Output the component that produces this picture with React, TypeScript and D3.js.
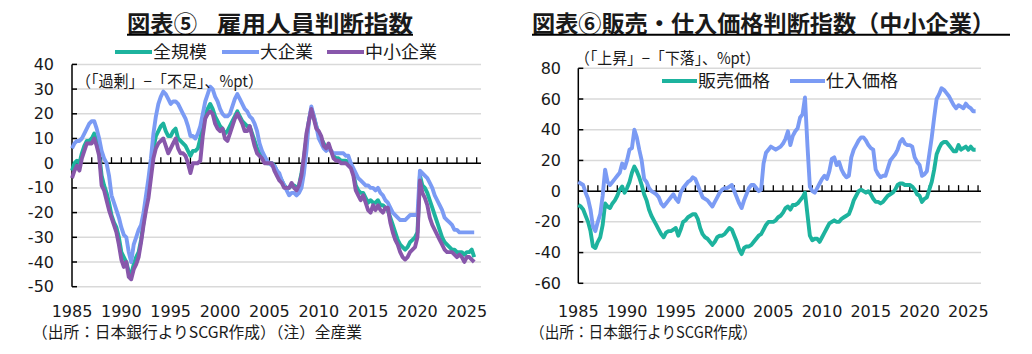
import React from "react";
import * as d3 from "d3";

// ---- Data (quarterly, 1985Q1 - 2025Q4) ----
const years = d3.range(1985, 2026);
const xTickLabels = ["1985", "1990", "1995", "2000", "2005", "2010", "2015", "2020", "2025"];
const leftYTicks = [40, 30, 20, 10, 0, -10, -20, -30, -40, -50];
const rightYTicks = [80, 60, 40, 20, 0, -20, -40, -60];

// 図表⑤ 雇用人員判断指数
const allSize = [
  -3, 0, 1, 0, 4, 7, 9, 9, 10, 12, 9, 4, -5, -9, -12, -16, -21, -24, -26, -30,
  -36, -38, -40, -44, -45, -41, -38, -36, -31, -24, -16, -9, -3, 6, 11, 13, 15, 16, 13, 11,
  11, 13, 14, 10, 9, 8, 7, 5, 3, 5, 5, 6, 10, 16, 20, 22, 24, 22, 19, 17,
  15, 14, 12, 13, 15, 17, 19, 21, 19, 17, 16, 15, 15, 12, 9, 6, 4, 3, 1, 0,
  0, 0, -1, -3, -5, -7, -9, -10, -10, -9, -9, -10, -9, -4, 2, 10, 17, 22, 19, 15,
  12, 10, 8, 6, 6, 5, 3, 2, 2, 1, 1, 1, 0, -1, -4, -9, -11, -12, -12, -14,
  -16, -15, -16, -16, -15, -17, -17, -18, -19, -22, -25, -28, -31, -33, -34, -35, -34, -32, -31, -30,
  -28, -5, -9, -10, -12, -15, -18, -21, -24, -27, -30, -32, -33, -34, -35, -35, -36, -36, -36, -37,
  -36, -36, -35, -38,
];
const large = [
  6, 8, 9, 9, 10, 12, 14, 16, 17, 17, 14, 10, 5, 2, 0, -5, -13, -16, -19, -22,
  -26, -29, -30, -36, -40, -33, -30, -27, -25, -20, -13, -6, 2, 12, 19, 24, 27, 29, 28, 26,
  24, 25, 25, 24, 22, 20, 18, 15, 11, 11, 10, 12, 15, 20, 25, 28, 31, 30, 27, 25,
  22, 20, 19, 19, 20, 23, 26, 28, 26, 24, 22, 21, 19, 18, 16, 13, 8, 5, 3, 1,
  0, -1, -1, -3, -4, -7, -9, -11, -13, -12, -12, -13, -12, -10, -4, 5, 17, 23, 19, 15,
  10, 8, 6, 5, 6, 5, 4, 4, 4, 4, 4, 3, 3, 0, -2, -4, -6, -7, -8, -9,
  -9, -10, -10, -11, -10, -12, -13, -15, -16, -18, -20, -21, -22, -23, -23, -23, -22, -21, -21, -21,
  -21, -3, -4, -5, -6, -8, -10, -13, -15, -17, -19, -22, -23, -24, -25, -27, -27, -28, -28, -28,
  -28, -28, -28, -28,
];
const small = [
  -6, -3, -1, -3, 2, 5, 8, 8, 8, 10, 7, 3, -9, -11, -15, -19, -22, -25, -28, -33,
  -39, -42, -40, -46, -47, -43, -41, -38, -32, -25, -19, -14, -6, 2, 6, 8, 9, 10, 7, 4,
  6, 8, 10, 6, 4, 4, 3, 0, -4, 0, 0, 0, 1, 11, 18, 20, 21, 20, 16, 14,
  13, 14, 10, 9, 12, 15, 18, 20, 18, 16, 13, 13, 15, 11, 7, 4, 3, 2, 0, 0,
  0, 0, -3, -5, -7, -8, -10, -10, -10, -8, -10, -11, -9, -5, 3, 12, 17, 22, 18, 14,
  13, 11, 7, 6, 8, 5, 2, 1, 1, 0, 0, 0, -1, -2, -5, -11, -13, -15, -13, -16,
  -19, -20, -17, -19, -17, -19, -20, -18, -18, -24, -28, -31, -33, -36, -38, -39, -38, -36, -35, -34,
  -30, -7, -12, -14, -17, -22, -25, -27, -29, -31, -33, -35, -36, -36, -36, -37, -38, -37, -38, -40,
  -38, -38, -39, -40,
];

// 図表⑥ 販売・仕入価格判断指数（中小企業）
const salesPrice = [
  -9, -10, -12, -16, -20, -26, -36, -37, -33, -30, -22, -8, -10, -11, -8, -6, -3, 1, 3, -1,
  2, 6, 12, 16, 13, 9, 4, -2, -6, -12, -16, -19, -22, -25, -28, -30, -27, -26, -26, -25,
  -24, -29, -25, -20, -19, -17, -16, -15, -15, -18, -24, -28, -30, -31, -33, -35, -33, -30, -29, -29,
  -28, -26, -24, -25, -29, -33, -38, -41, -37, -36, -36, -35, -33, -31, -29, -28, -25, -22, -20, -20,
  -20, -19, -17, -16, -14, -11, -10, -12, -9, -9, -8, -6, -4, -1, -15, -29, -32, -31, -31, -33,
  -30, -27, -24, -21, -20, -19, -20, -20, -18, -17, -16, -15, -11, -6, -3, 0, 1, 0, -1, 0,
  -2, -5, -7, -7, -8, -7, -5, -3, -2, -1, 1, 4, 5, 5, 4, 4, 4, 3, 1, -2,
  -3, -7, -5, -4, 1, 6, 14, 24, 28, 31, 32, 32, 30, 28, 26, 26, 30, 27, 28, 29,
  27, 29, 27, 27,
];
const inputPrice = [
  6, 5, 4, -1, -5, -12, -23, -26, -20, -15, -3, 14, 6, 4, 6, 8, 10, 12, 18, 15,
  20, 27, 28, 40, 35, 27, 20, 8, 6, 2, 0, -1, -2, -4, -8, -10, -8, -6, -4, -2,
  -5, -7, -1, 2, 4, 6, 7, 9, 8, 4, 0, -4, -5, -6, -8, -10, -7, -4, -1, 1,
  2, 2, 3, 4, 0, -4, -8, -11, -6, -2, 2, 4, 4, 2, 0, 1, 18, 25, 27, 29,
  28, 27, 28, 29, 31, 34, 39, 30, 36, 39, 41, 48, 50, 61, 30, 3, 0, -1, 2, 5,
  8, 10, 8, 13, 21, 22, 17, 19, 14, 11, 9, 10, 22, 27, 30, 33, 35, 35, 33, 30,
  28, 27, 14, 11, 9, 10, 10, 15, 20, 22, 24, 27, 32, 34, 31, 30, 30, 29, 22, 19,
  17, 10, 11, 13, 24, 35, 48, 60, 63, 67, 66, 64, 62, 59, 56, 54, 56, 55, 54, 57,
  55, 54, 52, 52,
];

const leftSeries = [
  { name: "全規模", values: allSize, color: "#1db39e" },
  { name: "大企業", values: large, color: "#7b9bf4" },
  { name: "中小企業", values: small, color: "#8857ab" },
];
const rightSeries = [
  { name: "販売価格", values: salesPrice, color: "#1db39e" },
  { name: "仕入価格", values: inputPrice, color: "#7b9bf4" },
];

const JP = "'Noto Sans CJK JP', 'Noto Sans', sans-serif";
const NUM = "'DejaVu Sans', sans-serif";
const TXT = "#1a1a1a";

type PanelProps = {
  left: number;
  gridRight: number;
  yTop: number;
  yBottom: number;
  yDomain: [number, number];
  yTicks: number[];
  yLabelX: number;
  series: { name: string; values: number[]; color: string }[];
  yearWidth: number;
};

function Panel(p: PanelProps) {
  const n = years.length * 4;
  const x = d3.scaleLinear().domain([0, n]).range([p.left, p.left + years.length * p.yearWidth]);
  const y = d3.scaleLinear().domain(p.yDomain).range([p.yBottom, p.yTop]);
  const line = d3
    .line<number>()
    .x((_, i) => x(i))
    .y((d) => y(d));
  const yearTicks = d3.range(1, years.length + 1);
  return (
    <g>
      {p.yTicks.map((t) => (
        <g key={t}>
          <line x1={p.left} x2={p.gridRight} y1={y(t)} y2={y(t)} stroke="#d9d9d9" strokeWidth={1.5} />
          <line x1={p.left} x2={p.left + 5} y1={y(t)} y2={y(t)} stroke="#000" strokeWidth={1.5} />
          <text x={p.yLabelX} y={y(t) + 5.5} textAnchor="end" fontFamily={NUM} fontSize={16} fill={TXT}>
            {t}
          </text>
        </g>
      ))}
      <line x1={p.left} x2={p.left} y1={y(p.yDomain[1])} y2={y(p.yDomain[0])} stroke="#000" strokeWidth={1.5} />
      <line x1={p.left} x2={p.gridRight} y1={y(0)} y2={y(0)} stroke="#000" strokeWidth={1.5} />
      {yearTicks.map((k) => (
        <line key={k} x1={x(k * 4)} x2={x(k * 4)} y1={y(0)} y2={y(0) - 6} stroke="#000" strokeWidth={1.3} />
      ))}
      {xTickLabels.map((lab) => {
        const idx = (+lab - 1985) * 4;
        return (
          <text key={lab} x={x(idx)} y={317} textAnchor="middle" fontFamily={NUM} fontSize={16} fill={TXT}>
            {lab}
          </text>
        );
      })}
      {p.series.map((s) => (
        <path key={s.name} d={line(s.values) || ""} fill="none" stroke={s.color} strokeWidth={3.9} strokeLinejoin="round" />
      ))}
    </g>
  );
}

function JText(props: { x: number; y: number; w: number; size: number; bold?: boolean; children: string }) {
  return (
    <text
      x={props.x}
      y={props.y}
      fontFamily={JP}
      fontSize={props.size}
      fontWeight={props.bold ? 700 : 400}
      fill={TXT}
      textLength={props.w}
      lengthAdjust="spacingAndGlyphs"
    >
      {props.children}
    </text>
  );
}

export default function App() {
  return (
    <svg width={1032} height={354} style={{ position: "absolute", left: 0, top: 0, background: "#fff" }}>
      <rect width={1032} height={354} fill="#fff" />
      {/* Left chart */}
      <JText x={127} y={31.5} w={70} size={23} bold>図表⑤</JText>
      <JText x={217} y={31.5} w={196} size={23} bold>雇用人員判断指数</JText>
      <line x1={127} x2={413} y1={34.8} y2={34.8} stroke="#000" strokeWidth={2} />
      {leftSeries.map((s, i) => {
        const lx = [115, 222, 327][i];
        const tw = [54, 53, 72][i];
        return (
          <g key={s.name}>
            <line x1={lx} x2={lx + 37} y1={52} y2={52} stroke={s.color} strokeWidth={4} />
            <JText x={lx + 38} y={58} w={tw} size={17}>{s.name}</JText>
          </g>
        );
      })}
      <Panel
        left={72}
        gridRight={481}
        yTop={64.4}
        yBottom={286.7}
        yDomain={[-50, 40]}
        yTicks={leftYTicks}
        yLabelX={54}
        series={leftSeries}
        yearWidth={9.87}
      />
      <JText x={76} y={87} w={187} size={15.5}>（「過剰」−「不足」、%pt）</JText>
      <JText x={32} y={338} w={330} size={15.5}>（出所：日本銀行よりSCGR作成）（注）全産業</JText>

      {/* Right chart */}
      <JText x={532} y={31.5} w={463} size={23} bold>図表⑥販売・仕入価格判断指数（中小企業）</JText>
      <line x1={532} x2={1010} y1={34.8} y2={34.8} stroke="#000" strokeWidth={2} />
      <Panel
        left={578.3}
        gridRight={981}
        yTop={68.3}
        yBottom={283.3}
        yDomain={[-60, 80]}
        yTicks={rightYTicks}
        yLabelX={561}
        series={rightSeries}
        yearWidth={9.75}
      />
      <JText x={575} y={64} w={185} size={15.5}>（「上昇」−「下落」、%pt）</JText>
      {rightSeries.map((s, i) => {
        const lx = [662, 790][i];
        return (
          <g key={s.name}>
            <line x1={lx} x2={lx + 35} y1={81} y2={81} stroke={s.color} strokeWidth={4} />
            <JText x={lx + 36} y={87} w={72} size={17}>{s.name}</JText>
          </g>
        );
      })}
      <JText x={530} y={338} w={227} size={15.5}>（出所：日本銀行よりSCGR作成）</JText>
    </svg>
  );
}
